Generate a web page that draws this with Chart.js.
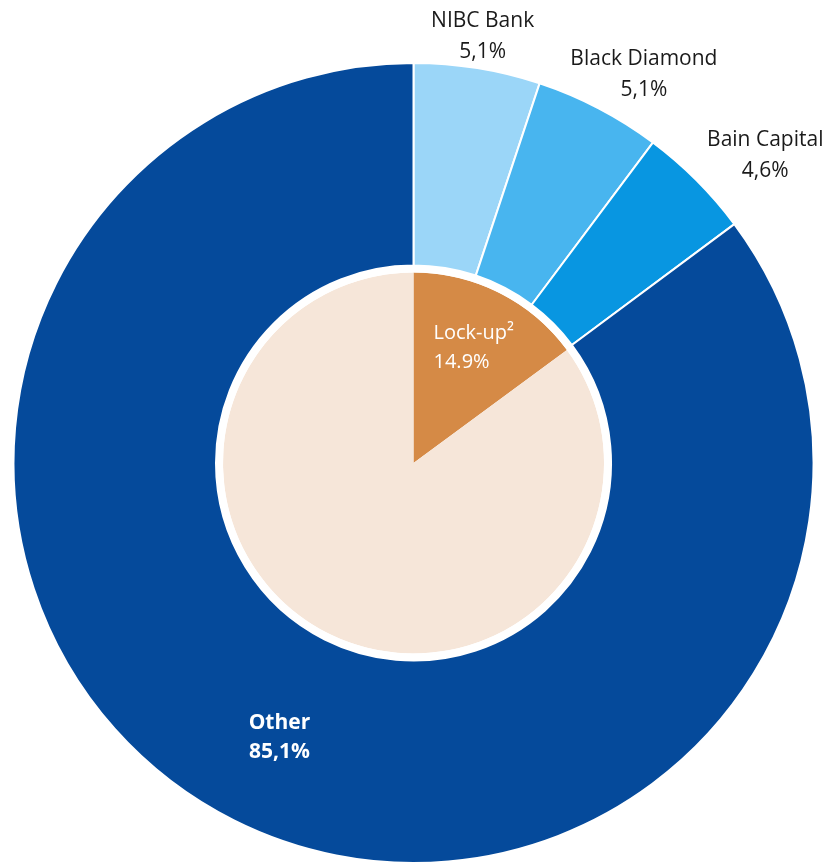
<!DOCTYPE html>
<html>
<head>
<meta charset="utf-8">
<script src="https://cdn.jsdelivr.net/npm/chart.js@4.4.0/dist/chart.umd.min.js"></script>
<style>
    html, body { margin: 0; padding: 0; background: #fff; }
    #wrap { width: 827px; height: 864px; }
</style>
</head>
<body>
<div id="wrap"><canvas id="pieChart"></canvas></div>
<script>
// outer ring: shareholders
const holderNames = ["NIBC Bank", "Black Diamond", "Bain Capital", "Other"];
const holderValues = [5.1, 5.1, 4.6, 85.1];
const holderLabels = ["5,1%", "5,1%", "4,6%", "85,1%"];
const holderColors = ["#9BD6F8", "#48B5EF", "#0896E1", "#054A9B"];

// inner pie: lock-up share
const lockNames = ["Lock-up\u00B2", ""];
const lockValues = [14.9, 85.1];
const lockLabels = ["14.9%", ""];
const lockColors = ["#D58A46", "#F6E6D9"];

const FONT = "'Open Sans', 'Noto Sans', sans-serif";

// label placement tweaks (pixels) relative to each arc's mid angle
const outerNudge = [[0, 0], [24, 6], [22, 21]];
const outerExtra = [33, 46, 66];

const labelPlugin = {
    id: "sliceLabels",
    afterDatasetsDraw(chart) {
        const ctx = chart.ctx;
        ctx.save();
        ctx.textBaseline = "middle";

        // outer ring labels
        const outerMeta = chart.getDatasetMeta(0);
        outerMeta.data.forEach((arc, i) => {
            const mid = (arc.startAngle + arc.endAngle) / 2;
            if (i < 3) {
                const r = arc.outerRadius + outerExtra[i];
                const x = arc.x + Math.cos(mid) * r + outerNudge[i][0];
                const y = arc.y + Math.sin(mid) * r + outerNudge[i][1];
                ctx.fillStyle = "#1a1a1a";
                ctx.textAlign = "center";
                ctx.font = "21px " + FONT;
                ctx.fillText(holderNames[i], x, y - 15);
                ctx.fillText(holderLabels[i], x, y + 16);
            } else {
                const p = arc.tooltipPosition();
                ctx.fillStyle = "#ffffff";
                ctx.textAlign = "center";
                ctx.font = "bold 21px " + FONT;
                ctx.fillText(holderNames[i], p.x, p.y - 7);
                ctx.fillText(holderLabels[i], p.x, p.y + 22);
            }
        });

        // inner pie label
        const innerMeta = chart.getDatasetMeta(2);
        const lock = innerMeta.data[0];
        const lx = lock.x + 20;
        const ly = lock.y - 130;
        ctx.fillStyle = "#ffffff";
        ctx.textAlign = "left";
        ctx.font = "20px " + FONT;
        ctx.fillText(lockNames[0], lx, ly);
        ctx.fillText(lockLabels[0], lx, ly + 29);

        ctx.restore();
    }
};

const ctx = document.getElementById("pieChart").getContext("2d");

new Chart(ctx, {
    type: "doughnut",
    data: {
        labels: holderNames,
        datasets: [
            {
                data: holderValues,
                backgroundColor: holderColors,
                borderColor: "#ffffff",
                borderWidth: 2,
                weight: 203,
            },
            {
                // white gap between the ring and the pie
                data: [1],
                backgroundColor: "#ffffff",
                borderWidth: 0,
                weight: 7,
            },
            {
                data: lockValues,
                backgroundColor: lockColors,
                borderWidth: 0,
                weight: 191,
            },
        ],
    },
    options: {
        responsive: true,
        maintainAspectRatio: false,
        animation: false,
        cutout: 0,
        hoverOffset: 0,
        layout: { padding: { top: 62, bottom: 0, left: 0, right: 0 } },
        plugins: {
            legend: { display: false },
            tooltip: { enabled: false },
        },
        events: [],
    },
    plugins: [labelPlugin],
});
</script>
</body>
</html>
